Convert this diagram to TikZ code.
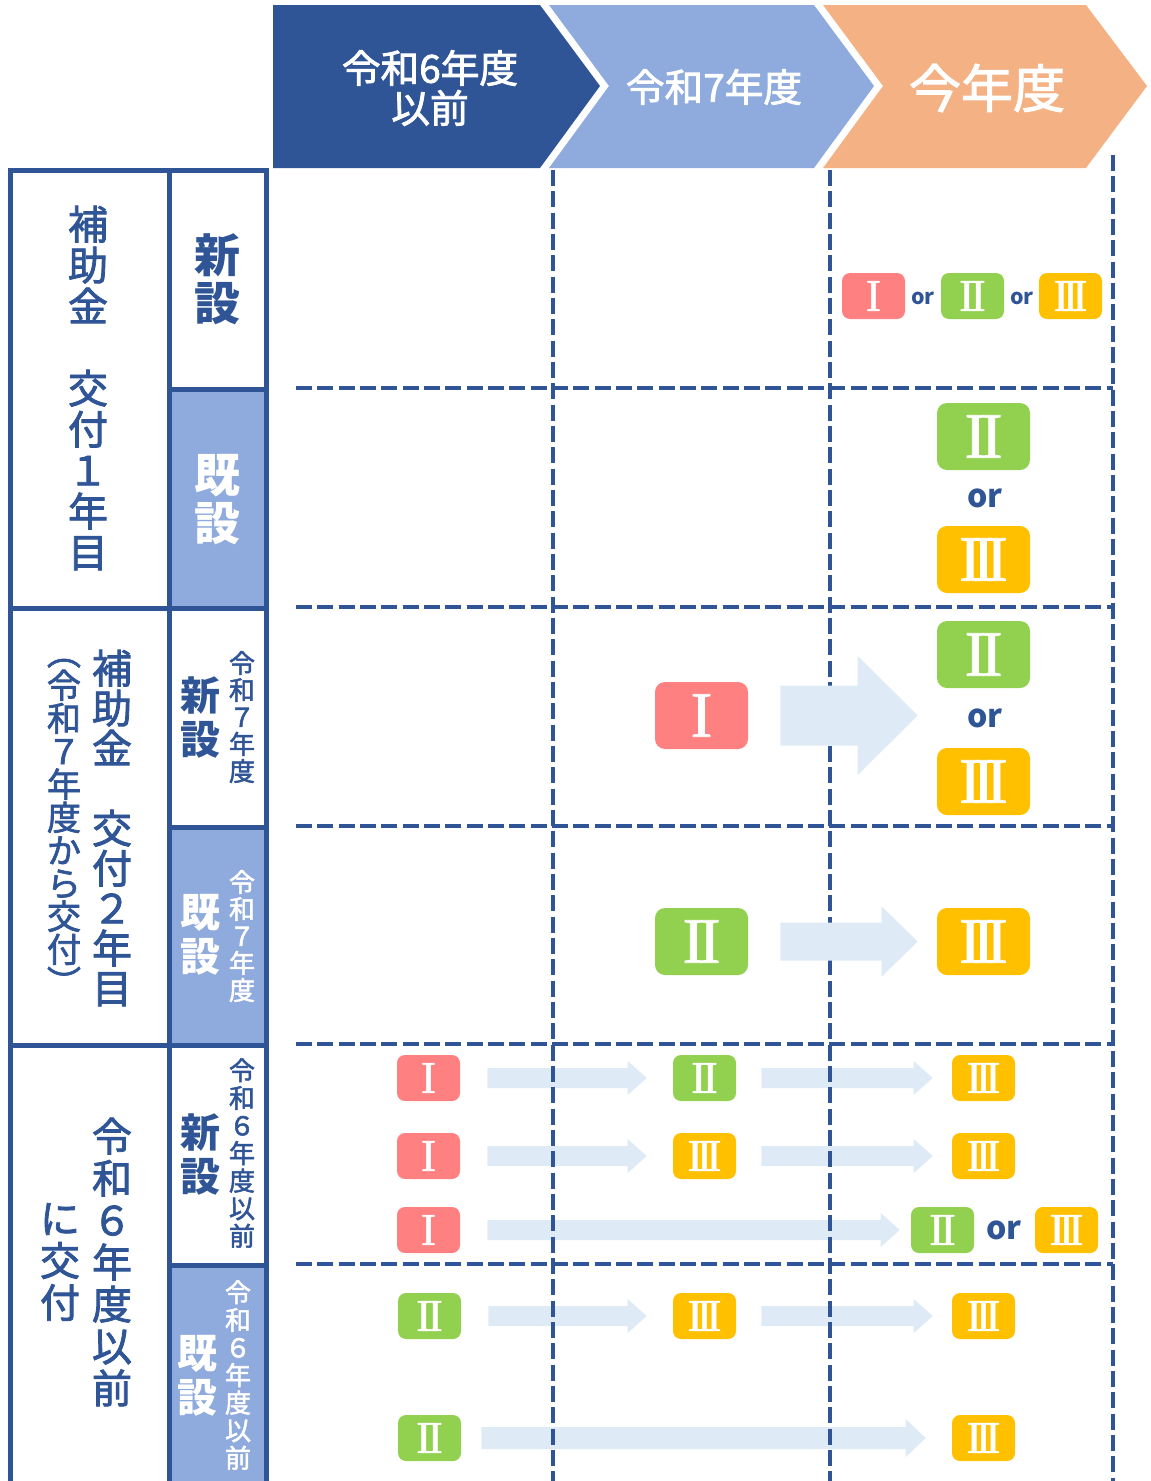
\documentclass[tikz,border=0pt]{standalone}
\usepackage{fontspec}
\setmainfont{Noto Sans CJK JP}
\newfontfamily\jpmed[FakeBold=2]{Noto Sans CJK JP}
\newfontfamily\romfont[FakeBold=1.2]{Liberation Serif}
\usetikzlibrary{calc}
\definecolor{dblue}{HTML}{2F5597}
\definecolor{lblue}{HTML}{8FAADC}
\definecolor{orng}{HTML}{F4B183}
\definecolor{pinkc}{HTML}{FF8080}
\definecolor{greenc}{HTML}{92D050}
\definecolor{goldc}{HTML}{FFC000}
\definecolor{arrowc}{HTML}{DEEBF7}
\newcommand{\rI}{I}
\newcommand{\rII}{I\kern-0.08em I}
\newcommand{\rIII}{I\kern-0.125em I\kern-0.125em I}
\tikzset{
  badgebig/.style={rounded corners=7.5pt, minimum width=69.75pt, minimum height=50.25pt, inner sep=0pt, text=white, font=\romfont\fontsize{48.5}{48.5}\selectfont},
  badgesmall/.style={rounded corners=6pt, minimum width=47.25pt, minimum height=34.5pt, inner sep=0pt, text=white, font=\romfont\fontsize{34}{34}\selectfont},
  bone/.style={fill=pinkc},
  btwo/.style={fill=greenc},
  bthree/.style={fill=goldc},
  orbig/.style={text=dblue, inner sep=0pt, font=\bfseries\fontsize{24}{24}\selectfont},
  orsmall/.style={text=dblue, inner sep=0pt, font=\bfseries\fontsize{16}{16}\selectfont},
  gridline/.style={draw=dblue, line width=2.6pt, dash pattern=on 12pt off 4pt},
  tabline/.style={draw=dblue, line width=3.75pt},
  vlabel/.style={align=center, inner sep=0pt, text=dblue},
  hdtext/.style={align=center, inner sep=0pt, text=white},
}
% block arrow from node #1 to node #2: gap start, gap end, shaft half, head half, head length (px)
\newcommand{\barrow}[7]{%
  \fill[arrowc] let \p1=(#1.east), \p2=(#2.west) in
    (\x1+#3*0.75pt, \y1+#5*0.75pt) -- (\x2-#4*0.75pt-#7*0.75pt, \y1+#5*0.75pt)
    -- (\x2-#4*0.75pt-#7*0.75pt, \y1+#6*0.75pt) -- (\x2-#4*0.75pt, \y1)
    -- (\x2-#4*0.75pt-#7*0.75pt, \y1-#6*0.75pt) -- (\x2-#4*0.75pt-#7*0.75pt, \y1-#5*0.75pt)
    -- (\x1+#3*0.75pt, \y1-#5*0.75pt) -- cycle;}
\begin{document}
\begin{tikzpicture}[x=0.75pt, y=-0.75pt]
\useasboundingbox (0,0) rectangle (1150,1481);
% header chevrons
\fill[dblue] (273,5) -- (540,5) -- (600,86) -- (540,168) -- (273,168) -- cycle;
\fill[lblue] (549,5) -- (814,5) -- (874,86) -- (814,168) -- (549,168) -- (609,86) -- cycle;
\fill[orng] (823,5) -- (1086,5) -- (1147,86) -- (1086,168) -- (823,168) -- (883,86) -- cycle;
\node[hdtext, font=\jpmed\fontsize{29}{30}\selectfont] (hd1) at (430,88) {令和6年度\\以前};
\node[hdtext, font=\jpmed\fontsize{29}{30}\selectfont] (hd2) at (714,87) {令和7年度};
\node[hdtext, font=\jpmed\fontsize{39}{40}\selectfont] (hd3) at (987,88) {今年度};
% left table fills
\fill[lblue] (168,389) rectangle (266,608);
\fill[lblue] (168,827) rectangle (266,1045);
\fill[lblue] (168,1265) rectangle (266,1490);
% left table lines
\draw[tabline] (10,1490) -- (10,170) -- (266,170) -- (266,1490);
\draw[tabline] (169,170) -- (169,1490);
\draw[tabline] (10,608) -- (266,608);
\draw[tabline] (10,1045) -- (266,1045);
\draw[tabline] (169,389) -- (266,389);
\draw[tabline] (169,827) -- (266,827);
\draw[tabline] (169,1265) -- (266,1265);
% left labels
\node[vlabel, font=\jpmed\fontsize{30}{30.75}\selectfont] (la) at (88,388) {補\\助\\金\\　\\交\\付\\１\\年\\目};
\node[vlabel, font=\bfseries\fontsize{34.5}{36}\selectfont] (lan) at (217,279) {新\\設};
\node[vlabel, text=white, font=\bfseries\fontsize{34.5}{36}\selectfont] (lak) at (217,500) {既\\設};
\node[vlabel, font=\jpmed\fontsize{30}{30}\selectfont] (lb) at (112,828) {補\\助\\金\\　\\交\\付\\２\\年\\目};
\node[vlabel, font=\jpmed\fontsize{25.5}{24.75}\selectfont] (lbp) at (64,827) {︵\\令\\和\\７\\年\\度\\か\\ら\\交\\付\\︶};
\node[vlabel, font=\bfseries\fontsize{30}{33}\selectfont] (lbn) at (200,717) {新\\設};
\node[vlabel, font=\jpmed\fontsize{19.5}{20.25}\selectfont] (lbny) at (242,717) {令\\和\\７\\年\\度};
\node[vlabel, text=white, font=\bfseries\fontsize{30}{33}\selectfont] (lbk) at (200,935) {既\\設};
\node[vlabel, text=white, font=\jpmed\fontsize{19.5}{20.25}\selectfont] (lbky) at (242,936) {令\\和\\７\\年\\度};
\node[vlabel, font=\jpmed\fontsize{30}{31.5}\selectfont] (lc) at (112,1262) {令\\和\\６\\年\\度\\以\\前};
\node[vlabel, font=\jpmed\fontsize{30}{31.5}\selectfont] (lc2) at (60,1262) {に\\交\\付};
\node[vlabel, font=\bfseries\fontsize{30}{33}\selectfont] (lcn) at (200,1154) {新\\設};
\node[vlabel, font=\jpmed\fontsize{19.5}{20.7}\selectfont] (lcny) at (242,1153) {令\\和\\６\\年\\度\\以\\前};
\node[vlabel, text=white, font=\bfseries\fontsize{30}{33}\selectfont] (lck) at (197,1376) {既\\設};
\node[vlabel, text=white, font=\jpmed\fontsize{19.5}{20.7}\selectfont] (lcky) at (238,1375) {令\\和\\６\\年\\度\\以\\前};
% badges
\node[badgesmall, bone] (a1) at (873.5,296) {\rI};
\node[orsmall] (aor1) at (923,298) {or};
\node[badgesmall, btwo] (a2) at (972.5,296) {\rII};
\node[orsmall] (aor2) at (1022,298) {or};
\node[badgesmall, bthree] (a3) at (1070.5,296) {\rIII};
\node[badgebig, btwo] (b2) at (983.5,436.5) {\rII};
\node[orbig] (bor) at (985,498) {or};
\node[badgebig, bthree] (b3) at (983.5,559.5) {\rIII};
\node[badgebig, bone] (c1) at (701.5,715.5) {\rI};
\node[badgebig, btwo] (c2) at (983.5,654.5) {\rII};
\node[orbig] (cor) at (985,718) {or};
\node[badgebig, bthree] (c3) at (983.5,781.5) {\rIII};
\node[badgebig, btwo] (d2) at (701.5,941.5) {\rII};
\node[badgebig, bthree] (d3) at (983.5,941.5) {\rIII};
\node[badgesmall, bone] (e1) at (428.5,1078) {\rI};
\node[badgesmall, btwo] (e2) at (704.5,1078) {\rII};
\node[badgesmall, bthree] (e3) at (983.5,1078) {\rIII};
\node[badgesmall, bone] (f1) at (428.5,1156) {\rI};
\node[badgesmall, bthree] (f2) at (704.5,1156) {\rIII};
\node[badgesmall, bthree] (f3) at (983.5,1156) {\rIII};
\node[badgesmall, bone] (g1) at (428.5,1230) {\rI};
\node[badgesmall, btwo] (g2) at (942.5,1230) {\rII};
\node[orbig] (gor) at (1004,1230) {or};
\node[badgesmall, bthree] (g3) at (1066.5,1230) {\rIII};
\node[badgesmall, btwo] (h1) at (429.5,1316) {\rII};
\node[badgesmall, bthree] (h2) at (704.5,1316) {\rIII};
\node[badgesmall, bthree] (h3) at (983.5,1316) {\rIII};
\node[badgesmall, btwo] (i1) at (429.5,1438) {\rII};
\node[badgesmall, bthree] (i3) at (983.5,1438) {\rIII};
% small arrows (under the grid)
\barrow{e1}{e2}{27}{26}{10}{17}{19}
\barrow{e2}{e3}{25}{19}{10}{17}{19}
\barrow{f1}{f2}{27}{26}{10}{17}{19}
\barrow{f2}{f3}{25}{19}{10}{17}{19}
\barrow{g1}{g2}{27}{11}{10}{17}{19}
\barrow{h1}{h2}{27}{26}{10}{17}{19}
\barrow{h2}{h3}{25}{19}{10}{17}{19}
\barrow{i1}{i3}{20}{26}{11}{19}{20}
% dashed grid
\foreach \yy in {388,607,826,1044,1264} \draw[gridline] (296,\yy) -- (1113,\yy);
\draw[gridline] (553,170) -- (553,1490);
\draw[gridline] (830,170) -- (830,1490);
\draw[gridline] (1113,155) -- (1113,1490);
% big arrows (over the grid)
\barrow{c1}{c2}{32}{19}{30}{59.5}{60}
\barrow{d2}{d3}{32}{19}{19}{35}{36}
\end{tikzpicture}
\end{document}
